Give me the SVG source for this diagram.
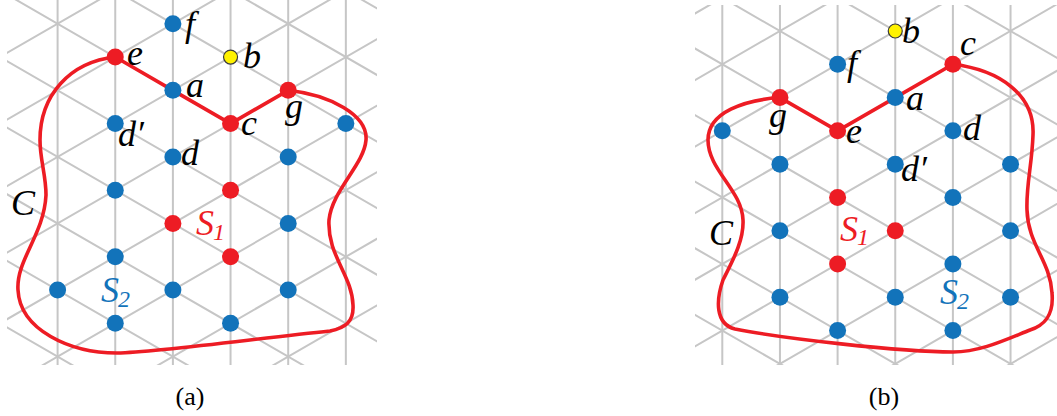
<svg xmlns="http://www.w3.org/2000/svg" xmlns:xlink="http://www.w3.org/1999/xlink" width="1057" height="416" viewBox="0 0 1057 416">
<style>
.grid{fill:none;stroke:#c6c6c6;stroke-width:2}
.curve{fill:none;stroke:#ed1c24;stroke-width:3.6;stroke-linejoin:round}
.bl{fill:#1273ba}
.rd{fill:#ed1c24}
.yl{fill:#fff200;stroke:#3a3a3a;stroke-width:1.2}
.lbl{font-family:"Liberation Serif","DejaVu Serif",serif;font-style:italic;font-size:36px;fill:#000}
.sub{font-size:24px}
.cap{font-family:"Liberation Serif","DejaVu Serif",serif;font-size:26px;fill:#000;text-anchor:middle}
</style>
<defs>
<clipPath id="clipA"><rect x="7" y="0" width="370" height="365"/></clipPath>
<clipPath id="clipB"><rect x="695" y="5" width="362" height="360"/></clipPath>
<g id="lattice" class="grid">
<path d="M-57.65 -100V420M0 -100V420M57.65 -100V420M115.3 -100V420M172.95 -100V420M230.6 -100V420M288.25 -100V420M345.9 -100V420"/>
<path d="M-60 -234.35L340 -3.41M-60 -167.78L340 63.16M-60 -101.21L340 129.73M-60 -34.64L340 196.3M-60 31.93L340 262.87M-60 98.5L340 329.44M-60 165.07L340 396.01M-60 231.64L340 462.58M-60 298.21L340 529.15"/>
<path d="M-60 -31.93L340 -262.87M-60 34.64L340 -196.3M-60 101.21L340 -129.73M-60 167.78L340 -63.16M-60 234.35L340 3.41M-60 300.92L340 69.98M-60 367.49L340 136.55M-60 434.06L340 203.12M-60 500.63L340 269.69M-60 567.2L340 336.26"/>
</g>
</defs>

<g id="gridA" clip-path="url(#clipA)"><use xlink:href="#lattice" href="#lattice" transform="translate(57.6 23.75)"/></g>
<g id="gridB" clip-path="url(#clipB)"><use xlink:href="#lattice" href="#lattice" transform="translate(722.3 64.28)"/></g>

<g id="connectors">
<path id="curveA" class="curve" d="M115.25 57.04L172.9 90.32L230.55 123.61L288.2 90.32C330 95 368 115 366 140C364 165 332 190 329 220C327 255 352 275 353 305C354 322 345 328 330 331C260 338 160 352 117 353C70 353 20 330 18 290C16 260 44 235 46 195C46 175 40 160 40 140C40 95 70 62 115.25 57.04Z"/>
<path id="curveB" class="curve" d="M779.95 97.57L837.6 130.85L895.25 97.57L952.9 64.28C1000 70 1035 95 1033 135C1032 165 1026 185 1027 210C1028 245 1050 260 1052 293C1054 315 1045 325 1030 330C1005 340 980 352 953 352C900 352 780 338 735 329C715 324 716 300 723 280C733 260 744 240 743 220C742 190 708 170 708 140C708 112 745 100 779.95 97.57Z"/>
</g>

<g id="panelA">
<g id="a-f"><circle class="bl" cx="172.9" cy="23.75" r="8.5"/><text class="lbl" x="185" y="36">f</text></g>
<g id="a-e"><circle class="rd" cx="115.25" cy="57.04" r="8.5"/><text class="lbl" x="127" y="65">e</text></g>
<g id="a-b"><circle class="yl" cx="230.55" cy="57.04" r="7"/><text class="lbl" x="243" y="68">b</text></g>
<g id="a-a"><circle class="bl" cx="172.9" cy="90.32" r="8.5"/><text class="lbl" x="186" y="97">a</text></g>
<g id="a-g"><circle class="rd" cx="288.2" cy="90.32" r="8.5"/><text class="lbl" x="285" y="118">g</text></g>
<g id="a-dp"><circle class="bl" cx="115.25" cy="123.61" r="8.5"/><text class="lbl" x="118" y="146">d′</text></g>
<g id="a-c"><circle class="rd" cx="230.55" cy="123.61" r="8.5"/><text class="lbl" x="241" y="135">c</text></g>
<g id="a-n1"><circle class="bl" cx="345.85" cy="123.61" r="8.5"/></g>
<g id="a-d"><circle class="bl" cx="172.9" cy="156.89" r="8.5"/><text class="lbl" x="181" y="165">d</text></g>
<g id="a-n2"><circle class="bl" cx="288.2" cy="156.89" r="8.5"/></g>
<g id="a-n3"><circle class="bl" cx="115.25" cy="190.18" r="8.5"/></g>
<g id="a-n4"><circle class="rd" cx="230.55" cy="190.18" r="8.5"/></g>
<g id="a-n5"><circle class="rd" cx="172.9" cy="223.46" r="8.5"/></g>
<g id="a-n6"><circle class="bl" cx="288.2" cy="223.46" r="8.5"/></g>
<g id="a-n7"><circle class="bl" cx="115.25" cy="256.75" r="8.5"/></g>
<g id="a-n8"><circle class="rd" cx="230.55" cy="256.75" r="8.5"/></g>
<g id="a-n9"><circle class="bl" cx="57.6" cy="290.03" r="8.5"/></g>
<g id="a-n10"><circle class="bl" cx="172.9" cy="290.03" r="8.5"/></g>
<g id="a-n11"><circle class="bl" cx="288.2" cy="290.03" r="8.5"/></g>
<g id="a-n12"><circle class="bl" cx="115.25" cy="323.32" r="8.5"/></g>
<g id="a-n13"><circle class="bl" cx="230.55" cy="323.32" r="8.5"/></g>
<text class="lbl" x="11" y="215">C</text>
<text class="lbl" x="196" y="235" style="fill:#ed1c24">S<tspan class="sub" dx="-1" dy="5">1</tspan></text>
<text class="lbl" x="101" y="302" style="fill:#1273ba">S<tspan class="sub" dx="-1" dy="5">2</tspan></text>
<text class="cap" x="190" y="405">(a)</text>
</g>

<g id="panelB">
<g id="b-b"><circle class="yl" cx="895.25" cy="31" r="7"/><text class="lbl" x="902" y="43">b</text></g>
<g id="b-c"><circle class="rd" cx="952.9" cy="64.28" r="8.5"/><text class="lbl" x="960" y="55">c</text></g>
<g id="b-f"><circle class="bl" cx="837.6" cy="64.28" r="8.5"/><text class="lbl" x="847" y="75">f</text></g>
<g id="b-g"><circle class="rd" cx="779.95" cy="97.57" r="8.5"/><text class="lbl" x="769" y="127">g</text></g>
<g id="b-a"><circle class="bl" cx="895.25" cy="97.57" r="8.5"/><text class="lbl" x="906" y="110">a</text></g>
<g id="b-n1"><circle class="bl" cx="722.3" cy="130.85" r="8.5"/></g>
<g id="b-e"><circle class="rd" cx="837.6" cy="130.85" r="8.5"/><text class="lbl" x="846" y="143">e</text></g>
<g id="b-d"><circle class="bl" cx="952.9" cy="130.85" r="8.5"/><text class="lbl" x="963" y="140">d</text></g>
<g id="b-n2"><circle class="bl" cx="779.95" cy="164.14" r="8.5"/></g>
<g id="b-dp"><circle class="bl" cx="895.25" cy="164.14" r="8.5"/><text class="lbl" x="901" y="181">d′</text></g>
<g id="b-n3"><circle class="bl" cx="1010.55" cy="164.14" r="8.5"/></g>
<g id="b-n4"><circle class="rd" cx="837.6" cy="197.42" r="8.5"/></g>
<g id="b-n5"><circle class="bl" cx="952.9" cy="197.42" r="8.5"/></g>
<g id="b-n6"><circle class="bl" cx="779.95" cy="230.71" r="8.5"/></g>
<g id="b-n7"><circle class="rd" cx="895.25" cy="230.71" r="8.5"/></g>
<g id="b-n8"><circle class="bl" cx="1010.55" cy="230.71" r="8.5"/></g>
<g id="b-n9"><circle class="rd" cx="837.6" cy="263.99" r="8.5"/></g>
<g id="b-n10"><circle class="bl" cx="952.9" cy="263.99" r="8.5"/></g>
<g id="b-n11"><circle class="bl" cx="779.95" cy="297.28" r="8.5"/></g>
<g id="b-n12"><circle class="bl" cx="895.25" cy="297.28" r="8.5"/></g>
<g id="b-n13"><circle class="bl" cx="1010.55" cy="297.28" r="8.5"/></g>
<g id="b-n14"><circle class="bl" cx="837.6" cy="330.56" r="8.5"/></g>
<g id="b-n15"><circle class="bl" cx="952.9" cy="330.56" r="8.5"/></g>
<text class="lbl" x="709" y="245">C</text>
<text class="lbl" x="840" y="241" style="fill:#ed1c24">S<tspan class="sub" dx="-1" dy="4">1</tspan></text>
<text class="lbl" x="940" y="304" style="fill:#1273ba">S<tspan class="sub" dx="-1" dy="5">2</tspan></text>
<text class="cap" x="884" y="405">(b)</text>
</g>
</svg>
